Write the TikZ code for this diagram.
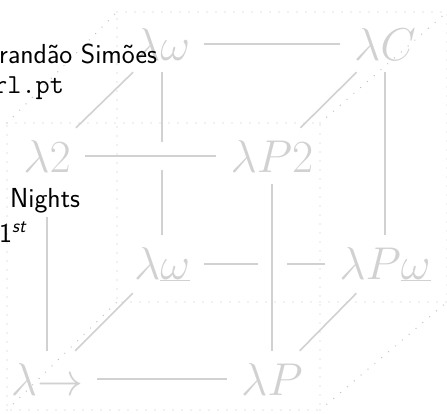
\RequirePackage{fix-cm}
\documentclass[tikz,border=0pt]{standalone}
\usetikzlibrary{calc}
\begin{document}
\begin{tikzpicture}[x=1pt,y=-1pt,
  lam/.style={text=black!18, font=\fontsize{46}{50}\selectfont, inner xsep=14pt, inner ysep=12pt, anchor=base},
  edge/.style={draw=black!18, line width=1.6pt},
  dots/.style={draw=black!24, line width=1.4pt, line cap=round, dash pattern=on 0pt off 9pt},
  over/.style={text=black, font=\fontsize{27.5}{33}\selectfont\sffamily, inner sep=0pt, anchor=base west},
  gap/.style={fill=white}]
\useasboundingbox (0,0) rectangle (447,413);
\clip (0,0) rectangle (447,413);
% dotted frame
\coordinate (f1) at (7,123);
\coordinate (f2) at (320,123);
\coordinate (f3) at (320,410);
\coordinate (f4) at (7,410);
\coordinate (b1) at (117,12);
\coordinate (b2) at (447,12);
\coordinate (b3) at (447,302);
\coordinate (b4) at (117,302);
\draw[dots] (f1) -- (f2) -- (f3) -- (f4) -- cycle;
\draw[dots] (b1) -- (b2) -- (b3) -- (b4) -- cycle;
\draw[dots] (f1) -- (b1);
\draw[dots] (f2) -- (b2);
\draw[dots] (f3) -- (b3);
\draw[dots] (f4) -- (b4);
% nodes
\node[lam] (lw)   at (162,60)  {$\lambda\omega$};
\node[lam] (lC)   at (385,60)  {$\lambda C$};
\node[lam] (l2)   at (47,172)  {$\lambda 2$};
\node[lam] (lP2)  at (272,172) {$\lambda P2$};
\node[lam] (lwu)  at (162,279) {$\lambda\underline{\omega}$};
\node[lam] (lPwu) at (385,279) {$\lambda P\underline{\omega}$};
\node[lam] (lto)  at (47,395)  {$\lambda{\to}$};
\node[lam] (lP)   at (272,395) {$\lambda P$};
% back edges
\draw[edge] (lw) -- (lC);
\draw[edge] (lwu) -- (lPwu);
\draw[edge] (lw) -- (lwu);
\draw[edge] (lC) -- (lPwu);
% diagonals
\draw[edge] (l2) -- (lw);
\draw[edge] (lP2) -- (lC);
\draw[edge] (lto) -- (lwu);
\draw[edge] (lP) -- (lPwu);
% gaps where front edges pass over back edges
\coordinate (x1) at (lP2.center |- lwu.center);
\coordinate (x2) at (lw.center |- l2.center);
\fill[gap] ($(x1)+(-14.5,-3)$) rectangle ($(x1)+(14.5,3)$);
\fill[gap] ($(x2)+(-3,-14)$) rectangle ($(x2)+(3,14)$);
% front edges
\draw[edge] (l2) -- (lP2);
\draw[edge] (lto) -- (lP);
\draw[edge] (l2) -- (lto);
\draw[edge] (lP2) -- (lP);
% overlay text
\node[over] (t1) at (-1,63) {randão Simões};
\node[over, font=\fontsize{27.5}{33}\selectfont\ttfamily] (t2) at (-7,93) {rl.pt};
\node[over, fill=white, inner xsep=0pt, inner ysep=4pt] (t3) at (10,207) {Nights};
\node[over] (t4) at (-1,242) {1\textsuperscript{\itshape st}};
\end{tikzpicture}
\end{document}
